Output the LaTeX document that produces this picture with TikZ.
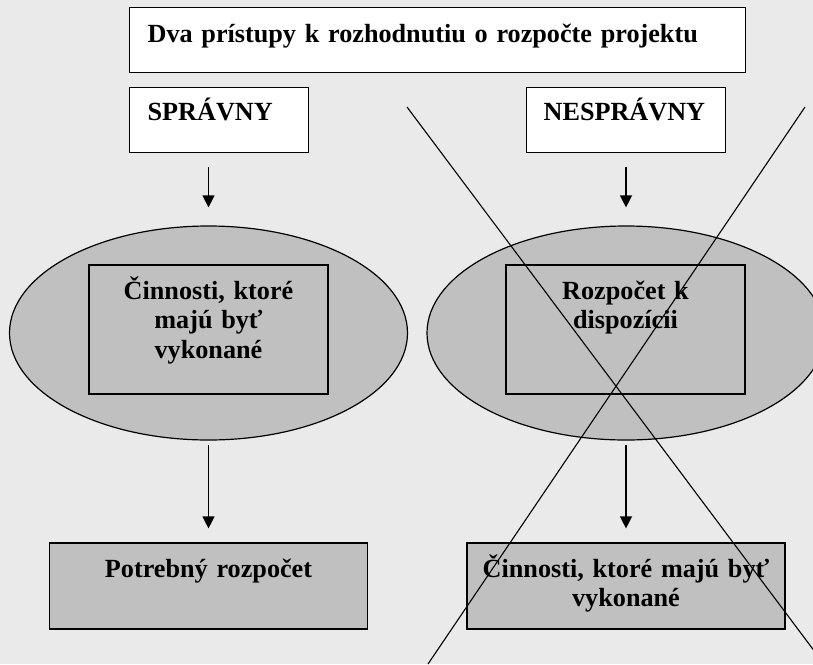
\documentclass[tikz,border=0pt]{standalone}
\usepackage{fontspec}
\setmainfont{Liberation Serif}
\usetikzlibrary{shapes, arrows.meta}
\definecolor{pagegrey}{HTML}{EAEAEA}
\definecolor{boxgrey}{HTML}{C0C0C0}

\begin{document}
\begin{tikzpicture}[x=1pt, y=-1pt,
box/.style={draw, line width=1.2pt, inner sep=0pt, font=\bfseries\fontsize{26.2}{29.5}\selectfont},
whitebox/.style={box, fill=white, align=left},
greybox/.style={box, fill=boxgrey, align=center},
oval/.style={ellipse, draw, line width=1.2pt, fill=boxgrey, minimum width=398pt, minimum height=214pt, inner sep=0pt},
arr/.style={line width=1.3pt, -{Triangle[width=12pt, length=12pt]}},
cross/.style={line width=1.1pt}]
\useasboundingbox[fill=pagegrey] (0,0) rectangle (813,664);

% heading
\node[whitebox, anchor=north west, text width=580pt, text height=35pt, text depth=30pt, inner xsep=18pt] (head) at (129,7) {Dva prístupy k rozhodnutiu o rozpočte projektu};
\node[whitebox, anchor=north west, text width=143pt, text height=33pt, text depth=32pt, inner xsep=18pt] (spr) at (129,87) {SPRÁVNY};
\node[whitebox, anchor=north west, text width=165pt, text height=33pt, text depth=32pt, inner xsep=17pt] (nespr) at (526,87) {NESPRÁVNY};

% ovals
\node[oval] (ovalL) at (208.5,333) {};
\node[oval] (ovalR) at (626,333) {};
\node[greybox, text width=239pt, text height=34pt, text depth=95pt] (actL) at (208.5,329.5) {Činnosti, ktoré\\ majú byť\\ vykonané};
\node[greybox, text width=239pt, text height=34pt, text depth=95pt] (budR) at (625.5,329.5) {Rozpočet k\\ dispozícii};

% results
\node[greybox, text width=318pt, text height=34pt, text depth=52pt] (need) at (208.5,586) {Potrebný rozpočet};
\node[greybox, text width=318pt, text height=34pt, text depth=52pt] (actR) at (626,586) {Činnosti, ktoré majú byť\\ vykonané};

\draw[arr, shorten <=14pt, shorten >=18pt] (ovalL.north |- spr.south) -- (ovalL.north);
\draw[arr, shorten <=14pt, shorten >=18pt] (ovalR.north |- nespr.south) -- (ovalR.north);
\draw[arr, shorten <=4pt, shorten >=14pt] (ovalL.south) -- (need.north);
\draw[arr, shorten <=4pt, shorten >=14pt] (ovalR.south) -- (actR.north);

% crossed out
\coordinate (c1) at (407,107);
\coordinate (c2) at (824,664);
\coordinate (c3) at (805,107);
\coordinate (c4) at (428,664);
\draw[cross] (c1) -- (c2) (c3) -- (c4);
\end{tikzpicture}
\end{document}
